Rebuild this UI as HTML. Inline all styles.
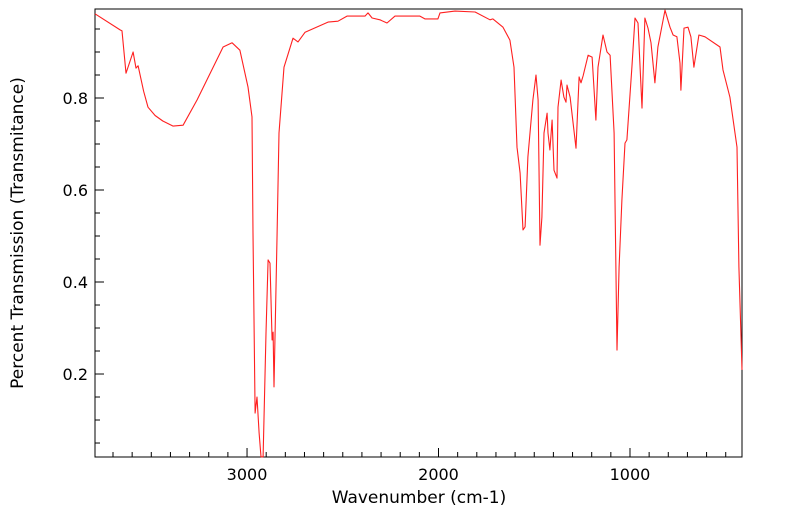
<!DOCTYPE html>
<html><head><meta charset="utf-8"><style>
body{margin:0;background:#fff;}
svg{display:block;font-family:"DejaVu Sans","Liberation Sans",sans-serif;}
</style></head><body>
<svg id="chart" width="799" height="516">
<rect x="95" y="9" width="647" height="448" fill="none" stroke="#000" stroke-width="1"/>
<g id="ticks"></g>
<path id="spectrum" fill="none" stroke="#ff2020" stroke-width="1.1" stroke-linejoin="round"/>
<text x="419" y="503" font-size="17" text-anchor="middle">Wavenumber (cm-1)</text>
<text transform="translate(23,233) rotate(-90)" font-size="17" text-anchor="middle">Percent Transmission (Transmitance)</text>
</svg>
<script>
const wavenumbers=[3794,3663,3653,3632,3595,3580,3569,3540,3517,3480,3440,3386,3334,3261,3125,3078,3037,2995,2974,2969,2958,2948,2937,2927,2916,2901,2890,2880,2869,2864,2859,2843,2833,2807,2760,2734,2697,2577,2525,2478,2384,2368,2347,2306,2269,2227,2097,2071,2003,1992,1914,1809,1731,1716,1663,1627,1606,1590,1574,1559,1548,1533,1507,1491,1480,1470,1460,1449,1433,1428,1418,1407,1397,1381,1376,1360,1345,1334,1329,1313,1282,1266,1256,1245,1219,1198,1178,1167,1141,1120,1104,1083,1068,1057,1042,1026,1016,990,974,958,937,922,906,890,870,854,817,791,775,755,739,734,718,697,682,666,640,608,530,514,478,441,431,415];
const transmittance=[0.983,0.948,0.946,0.854,0.900,0.865,0.870,0.815,0.780,0.762,0.750,0.739,0.741,0.796,0.911,0.920,0.904,0.824,0.759,0.506,0.115,0.150,0.072,0.020,0.020,0.289,0.448,0.441,0.274,0.291,0.172,0.506,0.724,0.867,0.930,0.922,0.943,0.965,0.967,0.978,0.978,0.985,0.974,0.970,0.963,0.978,0.978,0.972,0.972,0.985,0.989,0.987,0.970,0.972,0.954,0.926,0.867,0.693,0.637,0.513,0.520,0.672,0.796,0.850,0.796,0.480,0.541,0.724,0.767,0.724,0.687,0.752,0.643,0.626,0.780,0.839,0.802,0.791,0.828,0.802,0.691,0.846,0.833,0.848,0.893,0.889,0.752,0.867,0.937,0.900,0.893,0.724,0.252,0.433,0.578,0.702,0.709,0.867,0.974,0.963,0.778,0.974,0.952,0.920,0.833,0.911,0.991,0.954,0.937,0.933,0.876,0.817,0.952,0.954,0.933,0.867,0.937,0.933,0.911,0.861,0.802,0.693,0.433,0.209];
const xTickLabels=[3000,2000,1000];
const yTickLabels=[0.2,0.4,0.6,0.8];
const X0=95,X1=742,Y0=9,Y1=457,WMAX=3794,WMIN=415,TMAX=0.9935,TMIN=0.0196;
const sx=w=>X0+(WMAX-w)/(WMAX-WMIN)*(X1-X0);
const sy=t=>Y0+(TMAX-t)/(TMAX-TMIN)*(Y1-Y0);
const NS="http://www.w3.org/2000/svg";
let d="";
wavenumbers.forEach((w,i)=>{d+=(i?"L":"M")+sx(w).toFixed(1)+","+sy(transmittance[i]).toFixed(1);});
document.getElementById("spectrum").setAttribute("d",d);
const g=document.getElementById("ticks");
function line(x1,y1,x2,y2){const l=document.createElementNS(NS,"line");
l.setAttribute("x1",x1);l.setAttribute("y1",y1);l.setAttribute("x2",x2);l.setAttribute("y2",y2);
l.setAttribute("stroke","#000");l.setAttribute("stroke-width","1");


g.appendChild(l);}
function label(x,y,txt,anchor){const t=document.createElementNS(NS,"text");
t.setAttribute("x",x);t.setAttribute("y",y);t.setAttribute("font-size","16");t.setAttribute("text-anchor",anchor);t.textContent=txt;


g.appendChild(t);}
for(let w=3700;w>=500;w-=100){const x=sx(w);const major=w%1000===0;line(x,Y1,x,Y1-(major?9:5));}
xTickLabels.forEach(w=>label(sx(w),480,String(w),"middle"));
for(let k=1;k<=19;k++){const t=k*0.05;const y=sy(t);if(y<Y0||y>Y1)continue;const major=Math.abs(t*10-Math.round(t*10))<1e-6&&Math.round(t*10)%2===0;line(X0,y,X0+(major?9:5),y);}
yTickLabels.forEach(t=>label(88,sy(t)+6,t.toFixed(1),"end"));
</script>
</body></html>
